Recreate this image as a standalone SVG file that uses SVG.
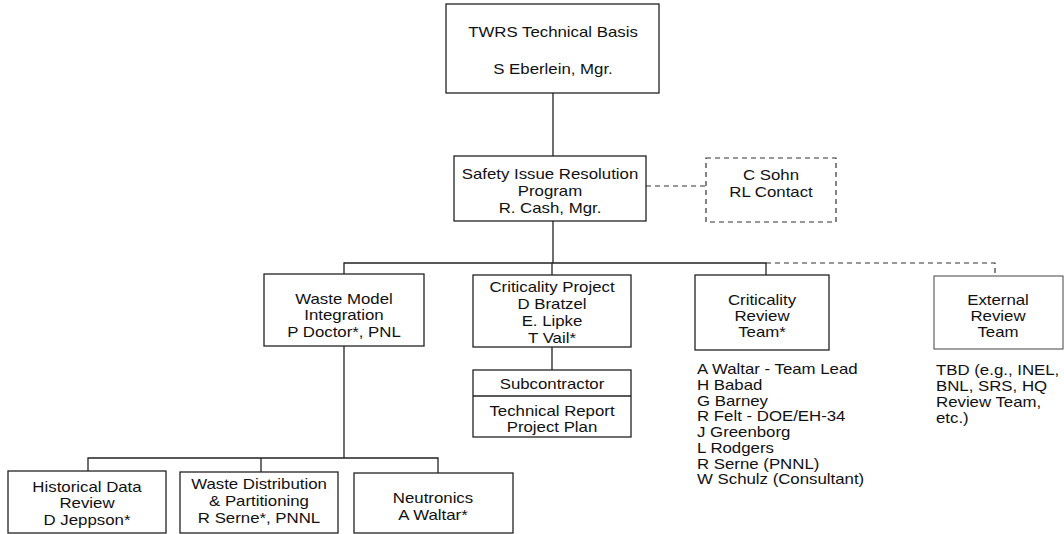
<svg xmlns="http://www.w3.org/2000/svg" width="1064" height="534" viewBox="0 0 1064 534">
<style>
  .box { fill: #ffffff; stroke: #222; stroke-width: 1.3; }
  .dbox { fill: #ffffff; stroke: #333; stroke-width: 1.2; stroke-dasharray: 5 4; }
  .gbox { fill: #ffffff; stroke: #555; stroke-width: 1.1; }
  .ln { fill: none; stroke: #222; stroke-width: 1.3; }
  .dl { fill: none; stroke: #333; stroke-width: 1.2; stroke-dasharray: 5 4; }
  text { font-family: "Liberation Sans", Arial, sans-serif; font-size: 14.5px; fill: #111; }
  .c { text-anchor: middle; }
</style>
<rect width="1064" height="534" fill="#ffffff"/>
<g id="connectors">
  <line class="ln" x1="553" y1="93" x2="553" y2="156"/>
  <line class="dl" x1="646" y1="186" x2="706" y2="186"/>
  <line class="ln" x1="553" y1="221" x2="553" y2="263"/>
  <polyline class="ln" points="344,274 344,263 766,263 766,275"/>
  <line class="ln" x1="552" y1="263" x2="552" y2="275"/>
  <polyline class="dl" points="766,263 995,263 995,276"/>
  <line class="ln" x1="552" y1="347" x2="552" y2="370"/>
  <line class="ln" x1="344" y1="346" x2="344" y2="458"/>
  <polyline class="ln" points="88,471 88,458 438,458 438,473"/>
  <line class="ln" x1="261" y1="458" x2="261" y2="472"/>
</g>
<g id="twrs">
  <rect class="box" x="446" y="4" width="213" height="89"/>
  <g transform="translate(553,0) scale(1.16,1)">
    <text class="c" x="0" y="37">TWRS Technical Basis</text>
    <text class="c" x="0" y="74">S Eberlein, Mgr.</text>
  </g>
</g>
<g id="safety">
  <rect class="box" x="454" y="156" width="192" height="65"/>
  <g transform="translate(550,0) scale(1.16,1)">
    <text class="c" x="0" y="179">Safety Issue Resolution</text>
    <text class="c" x="0" y="196">Program</text>
    <text class="c" x="0" y="213">R. Cash, Mgr.</text>
  </g>
</g>
<g id="csohn">
  <rect class="dbox" x="706" y="158" width="130" height="64"/>
  <g transform="translate(771,0) scale(1.16,1)">
    <text class="c" x="0" y="180">C Sohn</text>
    <text class="c" x="0" y="197">RL Contact</text>
  </g>
</g>
<g id="wastemodel">
  <rect class="box" x="264" y="274" width="160" height="72"/>
  <g transform="translate(344,0) scale(1.16,1)">
    <text class="c" x="0" y="304">Waste Model</text>
    <text class="c" x="0" y="320">Integration</text>
    <text class="c" x="0" y="337">P Doctor*, PNL</text>
  </g>
</g>
<g id="critproject">
  <rect class="box" x="473" y="275" width="158" height="72"/>
  <g transform="translate(552,0) scale(1.16,1)">
    <text class="c" x="0" y="292">Criticality Project</text>
    <text class="c" x="0" y="309">D Bratzel</text>
    <text class="c" x="0" y="326">E. Lipke</text>
    <text class="c" x="0" y="343">T Vail*</text>
  </g>
</g>
<g id="subcontractor">
  <rect class="box" x="473" y="370" width="158" height="67"/>
  <line class="ln" x1="473" y1="396" x2="631" y2="396"/>
  <g transform="translate(552,0) scale(1.16,1)">
    <text class="c" x="0" y="389">Subcontractor</text>
    <text class="c" x="0" y="416">Technical Report</text>
    <text class="c" x="0" y="432">Project Plan</text>
  </g>
</g>
<g id="critreview">
  <rect class="box" x="695" y="275" width="134" height="75"/>
  <g transform="translate(762,0) scale(1.16,1)">
    <text class="c" x="0" y="305">Criticality</text>
    <text class="c" x="0" y="321">Review</text>
    <text class="c" x="0" y="337">Team*</text>
  </g>
</g>
<g id="critreview-members" transform="translate(697,0) scale(1.16,1)">
  <text x="0" y="374">A Waltar - Team Lead</text>
  <text x="0" y="390">H Babad</text>
  <text x="0" y="406">G Barney</text>
  <text x="0" y="421">R Felt - DOE/EH-34</text>
  <text x="0" y="437">J Greenborg</text>
  <text x="0" y="453">L Rodgers</text>
  <text x="0" y="469">R Serne (PNNL)</text>
  <text x="0" y="484">W Schulz (Consultant)</text>
</g>
<g id="external">
  <rect class="gbox" x="934" y="276" width="129" height="73"/>
  <g transform="translate(998,0) scale(1.16,1)">
    <text class="c" x="0" y="305">External</text>
    <text class="c" x="0" y="321">Review</text>
    <text class="c" x="0" y="337">Team</text>
  </g>
</g>
<g id="external-members" transform="translate(936,0) scale(1.16,1)">
  <text x="0" y="375">TBD (e.g., INEL,</text>
  <text x="0" y="391">BNL, SRS, HQ</text>
  <text x="0" y="407">Review Team,</text>
  <text x="0" y="423">etc.)</text>
</g>
<g id="historical">
  <rect class="box" x="8" y="471" width="158" height="62"/>
  <g transform="translate(87,0) scale(1.16,1)">
    <text class="c" x="0" y="492">Historical Data</text>
    <text class="c" x="0" y="508">Review</text>
    <text class="c" x="0" y="525">D Jeppson*</text>
  </g>
</g>
<g id="wastedist">
  <rect class="box" x="180" y="472" width="158" height="61"/>
  <g transform="translate(259,0) scale(1.16,1)">
    <text class="c" x="0" y="489">Waste Distribution</text>
    <text class="c" x="0" y="506">&amp; Partitioning</text>
    <text class="c" x="0" y="523">R Serne*, PNNL</text>
  </g>
</g>
<g id="neutronics">
  <rect class="box" x="354" y="473" width="159" height="60"/>
  <g transform="translate(433,0) scale(1.16,1)">
    <text class="c" x="0" y="503">Neutronics</text>
    <text class="c" x="0" y="520">A Waltar*</text>
  </g>
</g>
</svg>
